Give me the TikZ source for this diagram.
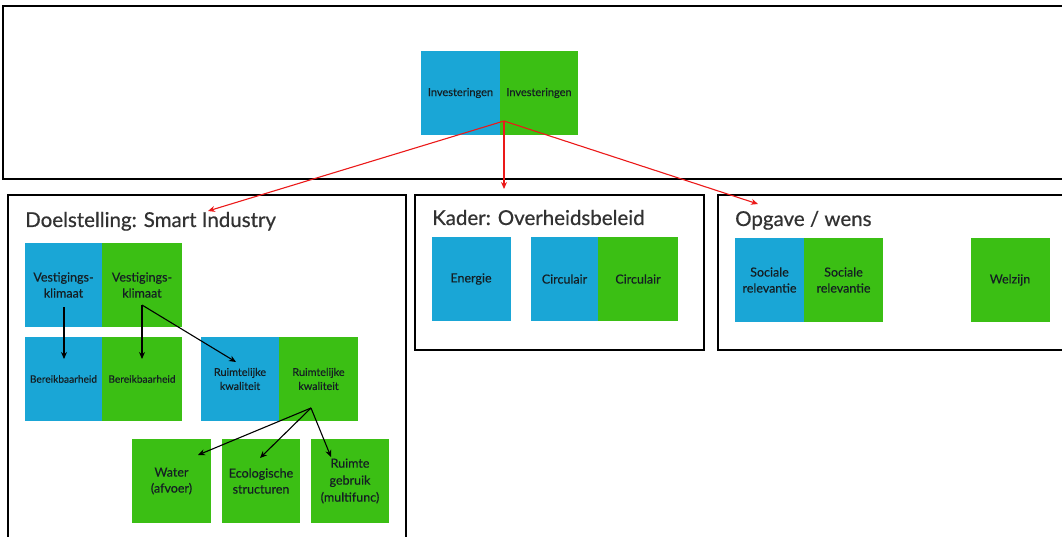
\documentclass[tikz,border=0pt]{standalone}
\usepackage{fontspec}
\setmainfont{Lato}
\newfontfamily\titlefont{Lato}[FakeBold=0.6]
\newfontfamily\cellfont{Lato}[FakeBold=0.3]
\usetikzlibrary{arrows.meta}
\definecolor{cblue}{RGB}{26,166,214}
\definecolor{cgreen}{RGB}{59,191,20}
\definecolor{ctitle}{RGB}{50,50,50}
\definecolor{ctext}{RGB}{20,30,35}
\definecolor{cred}{RGB}{235,25,25}
\tikzset{
  panel/.style={draw=black,line width=1.8pt},
  cell/.style={draw=none,inner sep=1pt,align=center,text=ctext,minimum height=84pt,font=\cellfont\fontsize{12.5}{16}\selectfont},
  bcell/.style={cell,fill=cblue},
  gcell/.style={cell,fill=cgreen},
  title/.style={anchor=base west,text=ctitle,inner sep=0pt,font=\titlefont\fontsize{20.5}{24}\selectfont},
  redarrow/.style={draw=cred,line width=1.1pt,-{Stealth[length=7pt,width=6pt]}},
  blkarrow/.style={draw=black,line width=1.1pt,-{Stealth[length=7pt,width=6pt]}},
}
\begin{document}
\begin{tikzpicture}[x=1pt,y=-1pt]
\useasboundingbox (0,0) rectangle (1062,537);
% panels
\draw[panel] (1070,6) -- (3,6) -- (3,179) -- (1070,179);
\draw[panel] (8,545) -- (8,195) -- (406,195) -- (406,545);
\draw[panel] (415,195) rectangle (704,350);
\draw[panel] (1070,195) -- (718,195) -- (718,350) -- (1070,350);
% titles
\node[title] (t1) at (25,227) {Doelstelling: Smart Industry};
\node[title] (t2) at (432,225) {Kader: Overheidsbeleid};
\node[title] (t3) at (735,226) {Opgave / wens};
% top
\node[bcell,minimum width=79pt,font=\cellfont\fontsize{11}{13}\selectfont] (ib) at (460.5,93) {Investeringen};
\node[gcell,minimum width=78pt,font=\cellfont\fontsize{11}{13}\selectfont] (ig) at (539,93) {Investeringen};
% Doelstelling
\node[bcell,minimum width=77pt] (vb) at (63.5,285) {Vestigings-\\klimaat};
\node[gcell,minimum width=80pt] (vg) at (142,285) {Vestigings-\\klimaat};
\node[bcell,minimum width=77pt,font=\cellfont\fontsize{10.2}{12}\selectfont] (bb) at (63.5,379) {Bereikbaarheid};
\node[gcell,minimum width=80pt,font=\cellfont\fontsize{10.2}{12}\selectfont] (bg) at (142,379) {Bereikbaarheid};
\node[bcell,minimum width=78pt,font=\cellfont\fontsize{10.8}{14}\selectfont] (rb) at (240,379) {Ruimtelijke\\kwaliteit};
\node[gcell,minimum width=79pt,font=\cellfont\fontsize{10.8}{14}\selectfont] (rg) at (318.5,379) {Ruimtelijke\\kwaliteit};
\node[gcell,minimum width=79pt] (wa) at (171.5,481) {Water\\(afvoer)};
\node[gcell,minimum width=78pt] (ec) at (261,481) {Ecologische\\structuren};
\node[gcell,minimum width=78pt,font=\cellfont\fontsize{12.5}{17}\selectfont] (ru) at (350,481) {Ruimte\\gebruik\\(multifunc)};
% Kader
\node[bcell,minimum width=79pt] (en) at (471,279) {Energie};
\node[bcell,minimum width=67pt] (cb) at (564.5,279) {Circulair};
\node[gcell,minimum width=80pt] (cg) at (638,279) {Circulair};
% Opgave
\node[bcell,minimum width=69pt] (sb) at (769.5,280) {Sociale\\relevantie};
\node[gcell,minimum width=79pt] (sg) at (843.5,280) {Sociale\\relevantie};
\node[gcell,minimum width=79pt] (wz) at (1010,280) {Welzijn};
% red arrows
\coordinate (r0) at (504,121);
\coordinate (r1) at (208,211);
\coordinate (r2) at (504,189);
\coordinate (r3) at (758,204);
\draw[redarrow] (r0) -- (r1);
\draw[redarrow] (r0) -- (r2);
\draw[redarrow] (r0) -- (r3);
% black arrows
\coordinate (a1) at (64,307);
\coordinate (a2) at (64,359);
\coordinate (b1) at (142,305);
\coordinate (b2) at (142,359);
\coordinate (c2) at (236,362);
\coordinate (d0) at (311,408);
\coordinate (d1) at (198,455);
\coordinate (d2) at (260,458);
\coordinate (d3) at (331,457);
\draw[blkarrow] (a1) -- (a2);
\draw[blkarrow] (b1) -- (b2);
\draw[blkarrow] (b1) -- (c2);
\draw[blkarrow] (d0) -- (d1);
\draw[blkarrow] (d0) -- (d2);
\draw[blkarrow] (d0) -- (d3);
\end{tikzpicture}
\end{document}
